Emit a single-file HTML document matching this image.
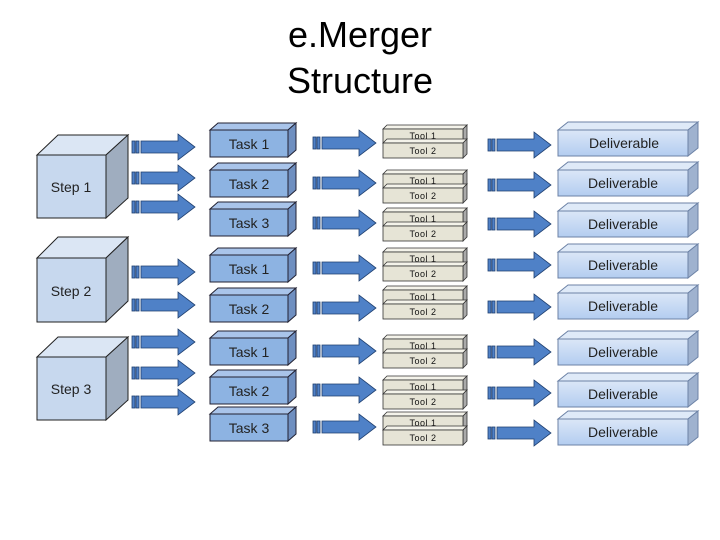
<!DOCTYPE html>
<html><head><meta charset="utf-8"><style>
html,body{margin:0;padding:0;background:#fff;}
svg{display:block;font-family:"Liberation Sans",sans-serif;}
</style></head><body>
<svg width="720" height="540" viewBox="0 0 720 540" xmlns="http://www.w3.org/2000/svg">
<defs>
<g id="ar">
<rect x="0" y="-6" width="3" height="12" fill="#4f81c7" stroke="#1f3f6f" stroke-width="0.8"/>
<rect x="4" y="-6" width="3" height="12" fill="#4f81c7" stroke="#1f3f6f" stroke-width="0.8"/>
<polygon points="9,-6 46,-6 46,-13 63,0 46,13 46,6 9,6" fill="#4f81c7" stroke="#1f3f6f" stroke-width="0.8"/>
</g>
<linearGradient id="dg" x1="0" y1="0" x2="0" y2="1"><stop offset="0" stop-color="#dbe7f7"/><stop offset="1" stop-color="#b3cdf0"/></linearGradient>
</defs>
<text x="360" y="47" font-size="36" text-anchor="middle" fill="#000">e.Merger</text>
<text x="360" y="93" font-size="36" text-anchor="middle" fill="#000">Structure</text>

<!-- cubes -->
<g stroke="#222" stroke-width="1">
<polygon points="37,155 58,135 128,135 106,155" fill="#dbe6f4"/>
<polygon points="106,155 128,135 128,198 106,218" fill="#9fadbf"/>
<rect x="37" y="155" width="69" height="63" fill="#c7d8ee"/>
<polygon points="37,258 58,237 128,237 106,258" fill="#dbe6f4"/>
<polygon points="106,258 128,237 128,301 106,322" fill="#9fadbf"/>
<rect x="37" y="258" width="69" height="64" fill="#c7d8ee"/>
<polygon points="37,357 58,337 128,337 106,357" fill="#dbe6f4"/>
<polygon points="106,357 128,337 128,400 106,420" fill="#9fadbf"/>
<rect x="37" y="357" width="69" height="63" fill="#c7d8ee"/>
</g>
<g font-size="14" fill="#222" text-anchor="middle">
<text x="71" y="192">Step 1</text><text x="71" y="296">Step 2</text><text x="71" y="394">Step 3</text>
</g>

<!-- step arrows -->
<use href="#ar" x="132" y="147"/><use href="#ar" x="132" y="178"/><use href="#ar" x="132" y="207"/>
<use href="#ar" x="132" y="272"/><use href="#ar" x="132" y="305"/>
<use href="#ar" x="132" y="342"/><use href="#ar" x="132" y="373"/><use href="#ar" x="132" y="402"/>

<!-- tasks -->
<g stroke="#223" stroke-width="1">
<g transform="translate(210,130)"><polygon points="0,0 8,-7 86,-7 78,0" fill="#a9c4ea"/><polygon points="78,0 86,-7 86,20 78,27" fill="#6f8fc0"/><rect width="78" height="27" fill="#8db3e2"/></g>
<g transform="translate(210,170)"><polygon points="0,0 8,-7 86,-7 78,0" fill="#a9c4ea"/><polygon points="78,0 86,-7 86,20 78,27" fill="#6f8fc0"/><rect width="78" height="27" fill="#8db3e2"/></g>
<g transform="translate(210,209)"><polygon points="0,0 8,-7 86,-7 78,0" fill="#a9c4ea"/><polygon points="78,0 86,-7 86,20 78,27" fill="#6f8fc0"/><rect width="78" height="27" fill="#8db3e2"/></g>
<g transform="translate(210,255)"><polygon points="0,0 8,-7 86,-7 78,0" fill="#a9c4ea"/><polygon points="78,0 86,-7 86,20 78,27" fill="#6f8fc0"/><rect width="78" height="27" fill="#8db3e2"/></g>
<g transform="translate(210,295)"><polygon points="0,0 8,-7 86,-7 78,0" fill="#a9c4ea"/><polygon points="78,0 86,-7 86,20 78,27" fill="#6f8fc0"/><rect width="78" height="27" fill="#8db3e2"/></g>
<g transform="translate(210,338)"><polygon points="0,0 8,-7 86,-7 78,0" fill="#a9c4ea"/><polygon points="78,0 86,-7 86,20 78,27" fill="#6f8fc0"/><rect width="78" height="27" fill="#8db3e2"/></g>
<g transform="translate(210,377)"><polygon points="0,0 8,-7 86,-7 78,0" fill="#a9c4ea"/><polygon points="78,0 86,-7 86,20 78,27" fill="#6f8fc0"/><rect width="78" height="27" fill="#8db3e2"/></g>
<g transform="translate(210,414)"><polygon points="0,0 8,-7 86,-7 78,0" fill="#a9c4ea"/><polygon points="78,0 86,-7 86,20 78,27" fill="#6f8fc0"/><rect width="78" height="27" fill="#8db3e2"/></g>
</g>
<g font-size="14" fill="#222" text-anchor="middle">
<text x="249" y="149">Task 1</text><text x="249" y="189">Task 2</text><text x="249" y="228">Task 3</text>
<text x="249" y="274">Task 1</text><text x="249" y="314">Task 2</text>
<text x="249" y="357">Task 1</text><text x="249" y="396">Task 2</text><text x="249" y="433">Task 3</text>
</g>

<!-- task arrows -->
<use href="#ar" x="313" y="143"/><use href="#ar" x="313" y="183"/><use href="#ar" x="313" y="223"/>
<use href="#ar" x="313" y="268"/><use href="#ar" x="313" y="308"/>
<use href="#ar" x="313" y="351"/><use href="#ar" x="313" y="390"/><use href="#ar" x="313" y="427"/>

<!-- tools -->
<g stroke="#333" stroke-width="0.8">
<g transform="translate(383,129)"><polygon points="0,0 4,-4 84,-4 80,0" fill="#f4f3ea"/><polygon points="80,0 84,-4 84,10 80,14" fill="#aaa"/><rect width="80" height="14" fill="#e6e4d6"/><polygon points="0,14 4,10 84,10 80,14" fill="#f4f3ea"/><polygon points="80,14 84,10 84,25 80,29" fill="#aaa"/><rect y="14" width="80" height="15" fill="#e6e4d6"/></g>
<g transform="translate(383,174)"><polygon points="0,0 4,-4 84,-4 80,0" fill="#f4f3ea"/><polygon points="80,0 84,-4 84,10 80,14" fill="#aaa"/><rect width="80" height="14" fill="#e6e4d6"/><polygon points="0,14 4,10 84,10 80,14" fill="#f4f3ea"/><polygon points="80,14 84,10 84,25 80,29" fill="#aaa"/><rect y="14" width="80" height="15" fill="#e6e4d6"/></g>
<g transform="translate(383,212)"><polygon points="0,0 4,-4 84,-4 80,0" fill="#f4f3ea"/><polygon points="80,0 84,-4 84,10 80,14" fill="#aaa"/><rect width="80" height="14" fill="#e6e4d6"/><polygon points="0,14 4,10 84,10 80,14" fill="#f4f3ea"/><polygon points="80,14 84,10 84,25 80,29" fill="#aaa"/><rect y="14" width="80" height="15" fill="#e6e4d6"/></g>
<g transform="translate(383,252)"><polygon points="0,0 4,-4 84,-4 80,0" fill="#f4f3ea"/><polygon points="80,0 84,-4 84,10 80,14" fill="#aaa"/><rect width="80" height="14" fill="#e6e4d6"/><polygon points="0,14 4,10 84,10 80,14" fill="#f4f3ea"/><polygon points="80,14 84,10 84,25 80,29" fill="#aaa"/><rect y="14" width="80" height="15" fill="#e6e4d6"/></g>
<g transform="translate(383,290)"><polygon points="0,0 4,-4 84,-4 80,0" fill="#f4f3ea"/><polygon points="80,0 84,-4 84,10 80,14" fill="#aaa"/><rect width="80" height="14" fill="#e6e4d6"/><polygon points="0,14 4,10 84,10 80,14" fill="#f4f3ea"/><polygon points="80,14 84,10 84,25 80,29" fill="#aaa"/><rect y="14" width="80" height="15" fill="#e6e4d6"/></g>
<g transform="translate(383,339)"><polygon points="0,0 4,-4 84,-4 80,0" fill="#f4f3ea"/><polygon points="80,0 84,-4 84,10 80,14" fill="#aaa"/><rect width="80" height="14" fill="#e6e4d6"/><polygon points="0,14 4,10 84,10 80,14" fill="#f4f3ea"/><polygon points="80,14 84,10 84,25 80,29" fill="#aaa"/><rect y="14" width="80" height="15" fill="#e6e4d6"/></g>
<g transform="translate(383,380)"><polygon points="0,0 4,-4 84,-4 80,0" fill="#f4f3ea"/><polygon points="80,0 84,-4 84,10 80,14" fill="#aaa"/><rect width="80" height="14" fill="#e6e4d6"/><polygon points="0,14 4,10 84,10 80,14" fill="#f4f3ea"/><polygon points="80,14 84,10 84,25 80,29" fill="#aaa"/><rect y="14" width="80" height="15" fill="#e6e4d6"/></g>
<g transform="translate(383,416)"><polygon points="0,0 4,-4 84,-4 80,0" fill="#f4f3ea"/><polygon points="80,0 84,-4 84,10 80,14" fill="#aaa"/><rect width="80" height="14" fill="#e6e4d6"/><polygon points="0,14 4,10 84,10 80,14" fill="#f4f3ea"/><polygon points="80,14 84,10 84,25 80,29" fill="#aaa"/><rect y="14" width="80" height="15" fill="#e6e4d6"/></g>
</g>
<g font-size="9" fill="#111" text-anchor="middle" letter-spacing="0.5">
<text x="423" y="139">Tool 1</text><text x="423" y="154">Tool 2</text>
<text x="423" y="184">Tool 1</text><text x="423" y="199">Tool 2</text>
<text x="423" y="222">Tool 1</text><text x="423" y="237">Tool 2</text>
<text x="423" y="262">Tool 1</text><text x="423" y="277">Tool 2</text>
<text x="423" y="300">Tool 1</text><text x="423" y="315">Tool 2</text>
<text x="423" y="349">Tool 1</text><text x="423" y="364">Tool 2</text>
<text x="423" y="390">Tool 1</text><text x="423" y="405">Tool 2</text>
<text x="423" y="426">Tool 1</text><text x="423" y="441">Tool 2</text>
</g>

<!-- tool arrows -->
<use href="#ar" x="488" y="145"/><use href="#ar" x="488" y="185"/><use href="#ar" x="488" y="224"/>
<use href="#ar" x="488" y="265"/><use href="#ar" x="488" y="307"/>
<use href="#ar" x="488" y="352"/><use href="#ar" x="488" y="393"/><use href="#ar" x="488" y="433"/>

<!-- deliverables -->
<g stroke="#6c82a6" stroke-width="1">
<g transform="translate(558,130)"><polygon points="0,0 10,-8 140,-8 130,0" fill="#dfeaf8"/><polygon points="130,0 140,-8 140,18 130,26" fill="#9fb2cf"/><rect width="130" height="26" fill="url(#dg)"/></g>
<g transform="translate(558,170)"><polygon points="0,0 10,-8 140,-8 130,0" fill="#dfeaf8"/><polygon points="130,0 140,-8 140,18 130,26" fill="#9fb2cf"/><rect width="130" height="26" fill="url(#dg)"/></g>
<g transform="translate(558,211)"><polygon points="0,0 10,-8 140,-8 130,0" fill="#dfeaf8"/><polygon points="130,0 140,-8 140,18 130,26" fill="#9fb2cf"/><rect width="130" height="26" fill="url(#dg)"/></g>
<g transform="translate(558,252)"><polygon points="0,0 10,-8 140,-8 130,0" fill="#dfeaf8"/><polygon points="130,0 140,-8 140,18 130,26" fill="#9fb2cf"/><rect width="130" height="26" fill="url(#dg)"/></g>
<g transform="translate(558,293)"><polygon points="0,0 10,-8 140,-8 130,0" fill="#dfeaf8"/><polygon points="130,0 140,-8 140,18 130,26" fill="#9fb2cf"/><rect width="130" height="26" fill="url(#dg)"/></g>
<g transform="translate(558,339)"><polygon points="0,0 10,-8 140,-8 130,0" fill="#dfeaf8"/><polygon points="130,0 140,-8 140,18 130,26" fill="#9fb2cf"/><rect width="130" height="26" fill="url(#dg)"/></g>
<g transform="translate(558,381)"><polygon points="0,0 10,-8 140,-8 130,0" fill="#dfeaf8"/><polygon points="130,0 140,-8 140,18 130,26" fill="#9fb2cf"/><rect width="130" height="26" fill="url(#dg)"/></g>
<g transform="translate(558,419)"><polygon points="0,0 10,-8 140,-8 130,0" fill="#dfeaf8"/><polygon points="130,0 140,-8 140,18 130,26" fill="#9fb2cf"/><rect width="130" height="26" fill="url(#dg)"/></g>
</g>
<g font-size="14" fill="#222" text-anchor="middle">
<text x="624" y="148">Deliverable</text><text x="623" y="188">Deliverable</text><text x="623" y="229">Deliverable</text>
<text x="623" y="270">Deliverable</text><text x="623" y="311">Deliverable</text><text x="623" y="357">Deliverable</text>
<text x="623" y="399">Deliverable</text><text x="623" y="437">Deliverable</text>
</g>
</svg>
</body></html>
